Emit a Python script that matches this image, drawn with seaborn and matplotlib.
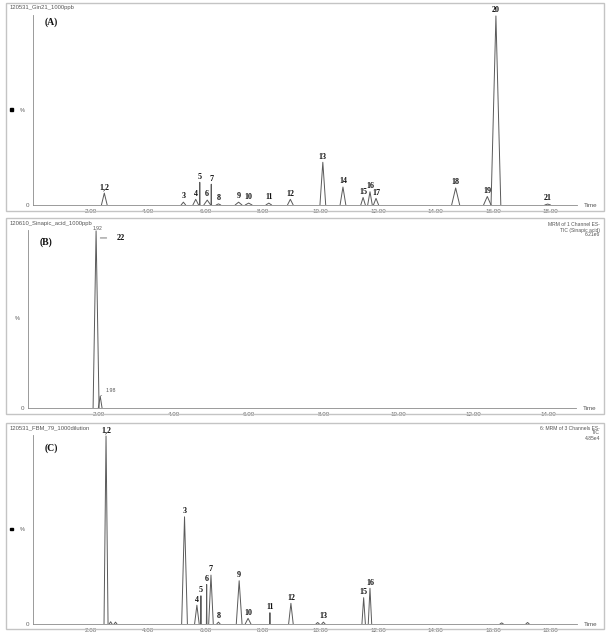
import numpy as np
import pandas as pd
import matplotlib
matplotlib.use("Agg")
import matplotlib.pyplot as plt
from matplotlib.patches import Rectangle
from matplotlib.ticker import MultipleLocator, FixedLocator
import seaborn as sns

# ---------------- data ----------------
# Panel A : standard mix 1000 ppb
A_time   = [2.48, 5.23, 5.66, 5.80, 6.06, 6.20, 6.45, 7.15, 7.50, 8.20, 8.95,
            10.08, 10.78, 11.48, 11.72, 11.93, 14.70, 15.80, 16.10, 17.90]
A_height = [6.3, 1.5, 3.0, 12.0, 2.6, 11.0, 0.6, 1.5, 1.0, 1.0, 3.0,
            22.6, 9.5, 4.0, 7.0, 3.5, 9.0, 4.5, 100.0, 0.5]
A_width  = [0.10, 0.08, 0.10, 0.01, 0.12, 0.01, 0.08, 0.12, 0.12, 0.10, 0.10,
            0.10, 0.10, 0.08, 0.08, 0.09, 0.14, 0.13, 0.17, 0.10]
A_label  = ["1,2", "3", "4", "5", "6", "7", "8", "9", "10", "11", "12",
            "13", "14", "15", "16", "17", "18", "19", "20", "21"]

# Panel B : sinapic acid 1000 ppb
B_time   = [1.92, 2.03]
B_height = [100.0, 6.7]
B_width  = [0.08, 0.05]
B_label  = ["1.92", "1.98"]

# Panel C : sample FBM_79
C_time   = [2.54, 2.70, 2.87, 5.27, 5.70, 5.84, 6.04, 6.19, 6.45, 7.17, 7.48,
            8.24, 8.97, 9.90, 10.10, 11.50, 11.72, 16.30, 17.20]
C_height = [100.0, 1.2, 1.0, 57.0, 10.0, 15.0, 21.0, 26.0, 1.0, 23.0, 3.0,
            6.0, 11.0, 0.8, 1.0, 14.0, 19.0, 0.6, 0.8]
C_width  = [0.07, 0.05, 0.05, 0.10, 0.08, 0.01, 0.01, 0.08, 0.06, 0.10, 0.10,
            0.01, 0.08, 0.06, 0.06, 0.06, 0.06, 0.06, 0.06]
C_label  = ["1,2", "", "", "3", "4", "5", "6", "7", "8", "9", "10",
            "11", "12", "", "13", "15", "16", "", ""]

A_ticks = [2, 4, 6, 8, 10, 12, 14, 16, 18]
B_ticks = [2, 4, 6, 8, 10, 12, 14]
C_ticks = [2, 4, 6, 8, 10, 12, 14, 16, 18]

A_header = "120531_Gin21_1000ppb"
B_header = "120610_Sinapic_acid_1000ppb"
C_header = "120531_FBM_79_1000dilution"
B_info = ["MRM of 1 Channel ES-", "TIC (Sinapic acid)", "6.21e6"]
C_info = ["6: MRM of 3 Channels ES-", "TIC", "4.85e4"]


def trace_frame(times, heights, widths):
    rows = []
    for i, (t, h, w) in enumerate(zip(times, heights, widths)):
        rows.append((i, t - w, 0.0))
        rows.append((i, t, h))
        rows.append((i, t + w, 0.0))
    return pd.DataFrame(rows, columns=["peak", "time", "intensity"])


# ---------------- figure ----------------
sns.set_theme(style="white")
plt.rcParams["font.family"] = ["Liberation Sans", "DejaVu Sans"]

W, H = 608, 633
fig = plt.figure(figsize=(W / 100, H / 100), dpi=100)


def px_rect(x0, y0, x1, y1):
    return [x0 / W, 1 - y1 / H, (x1 - x0) / W, (y1 - y0) / H]


# panel frames
for (x0, y0, x1, y1) in [(6, 3, 604, 211), (6, 218, 604, 414), (6, 423, 604, 629)]:
    r = px_rect(x0, y0, x1, y1)
    fig.patches.append(Rectangle((r[0], r[1]), r[2], r[3], transform=fig.transFigure,
                                 fill=False, edgecolor="#c4c4c4", lw=1.0))

axA = fig.add_axes(px_rect(33, 15, 577, 205))
axB = fig.add_axes(px_rect(28, 230, 576, 408))
axC = fig.add_axes(px_rect(33, 435, 577, 624))

LINE = "#5a5a5a"
serif_bold = dict(family=["Liberation Serif", "DejaVu Serif"], weight="bold")


def style_axis(ax, xlim, ticks):
    ax.set_xlim(*xlim)
    ax.set_ylim(0, 100.5)
    for s in ["top", "right"]:
        ax.spines[s].set_visible(False)
    for s in ["left", "bottom"]:
        ax.spines[s].set_color("#8a8a8a")
        ax.spines[s].set_linewidth(0.6)
    ax.xaxis.set_major_locator(FixedLocator(ticks))
    ax.set_xticklabels([f"{t:.2f}" for t in ticks])
    ax.xaxis.set_minor_locator(MultipleLocator(0.5))
    ax.yaxis.set_major_locator(FixedLocator([0]))
    ax.set_yticklabels(["0"])
    ax.yaxis.set_minor_locator(MultipleLocator(10))
    ax.tick_params(axis="both", which="major", direction="out", length=2, width=0.5,
                   colors="#8a8a8a", labelsize=4.5, labelcolor="#666666", pad=1)
    ax.tick_params(axis="both", which="minor", direction="out", length=1.2, width=0.4,
                   colors="#9a9a9a")
    ax.set_xlabel("")
    ax.set_ylabel("")
    ax.set_facecolor("none")
    ax.text(-0.015, 0.5, "%", transform=ax.transAxes, fontsize=4, color="#555555",
            ha="right", va="center")
    ax.text(1.012, 0.0, "Time", transform=ax.transAxes, fontsize=4.5, color="#555555",
            ha="left", va="center")


def draw(ax, times, heights, widths):
    df = trace_frame(times, heights, widths)
    sns.lineplot(data=df, x="time", y="intensity", units="peak", estimator=None,
                 color=LINE, lw=0.7, ax=ax, legend=False)


# ---- panel A ----
draw(axA, A_time, A_height, A_width)
style_axis(axA, (0, 18.92), A_ticks)
for t, h, lab in zip(A_time, A_height, A_label):
    if lab:
        axA.annotate(lab, (t, h), xytext=(0, 1.2), textcoords="offset points",
                     ha="center", va="bottom", fontsize=5.8, color="#111111",
                     annotation_clip=False, **serif_bold)
axA.text(0.022, 0.96, "(A)", transform=axA.transAxes, fontsize=7, color="#111111",
         ha="left", va="center", **serif_bold)

# ---- panel B ----
draw(axB, B_time, B_height, B_width)
style_axis(axB, (0.1, 14.75), B_ticks)
axB.annotate(B_label[0], (B_time[0], B_height[0]), xytext=(1, 0.2),
             textcoords="offset points", ha="center", va="bottom", fontsize=3.6,
             color="#555555", annotation_clip=False)
axB.annotate(B_label[1], (B_time[1], B_height[1]), xytext=(4, 2.5),
             textcoords="offset points", ha="left", va="bottom", fontsize=3.8,
             color="#555555", annotation_clip=False,
             arrowprops=dict(arrowstyle="-", color="#777777", lw=0.4,
                             shrinkA=0.5, shrinkB=0.5))
axB.annotate("22", (B_time[0], 96), xytext=(18, 0), textcoords="offset points",
             ha="center", va="center", fontsize=6, color="#111111",
             annotation_clip=False,
             arrowprops=dict(arrowstyle="-", color="#444444", lw=0.5,
                             shrinkA=5, shrinkB=3),
             **serif_bold)
axB.text(0.022, 0.93, "(B)", transform=axB.transAxes, fontsize=7, color="#111111",
         ha="left", va="center", **serif_bold)

# ---- panel C ----
draw(axC, C_time, C_height, C_width)
style_axis(axC, (0, 18.92), C_ticks)
for t, h, lab in zip(C_time, C_height, C_label):
    if lab:
        axC.annotate(lab, (t, h), xytext=(0, 1.2), textcoords="offset points",
                     ha="center", va="bottom", fontsize=5.8, color="#111111",
                     annotation_clip=False, **serif_bold)
axC.text(0.022, 0.93, "(C)", transform=axC.transAxes, fontsize=7, color="#111111",
         ha="left", va="center", **serif_bold)

# headers and info texts
for y, txt in [(8, A_header), (223, B_header), (428, C_header)]:
    fig.text(10 / W, 1 - y / H, txt, fontsize=4.2, color="#555555", ha="left", va="center")
for base, lines in [(225, B_info), (428, C_info)]:
    for k, txt in enumerate(lines):
        fig.text(600 / W, 1 - (base + 5 * k) / H, txt, fontsize=3.6, color="#555555",
                 ha="right", va="center")

# small black marks at the left edge
for y in [110, 529]:
    fig.patches.append(Rectangle((10 / W, 1 - (y + 1) / H), 3 / W, 2.5 / H,
                                 transform=fig.transFigure, color="black"))

fig.savefig("out.png", dpi=100, facecolor="white")
